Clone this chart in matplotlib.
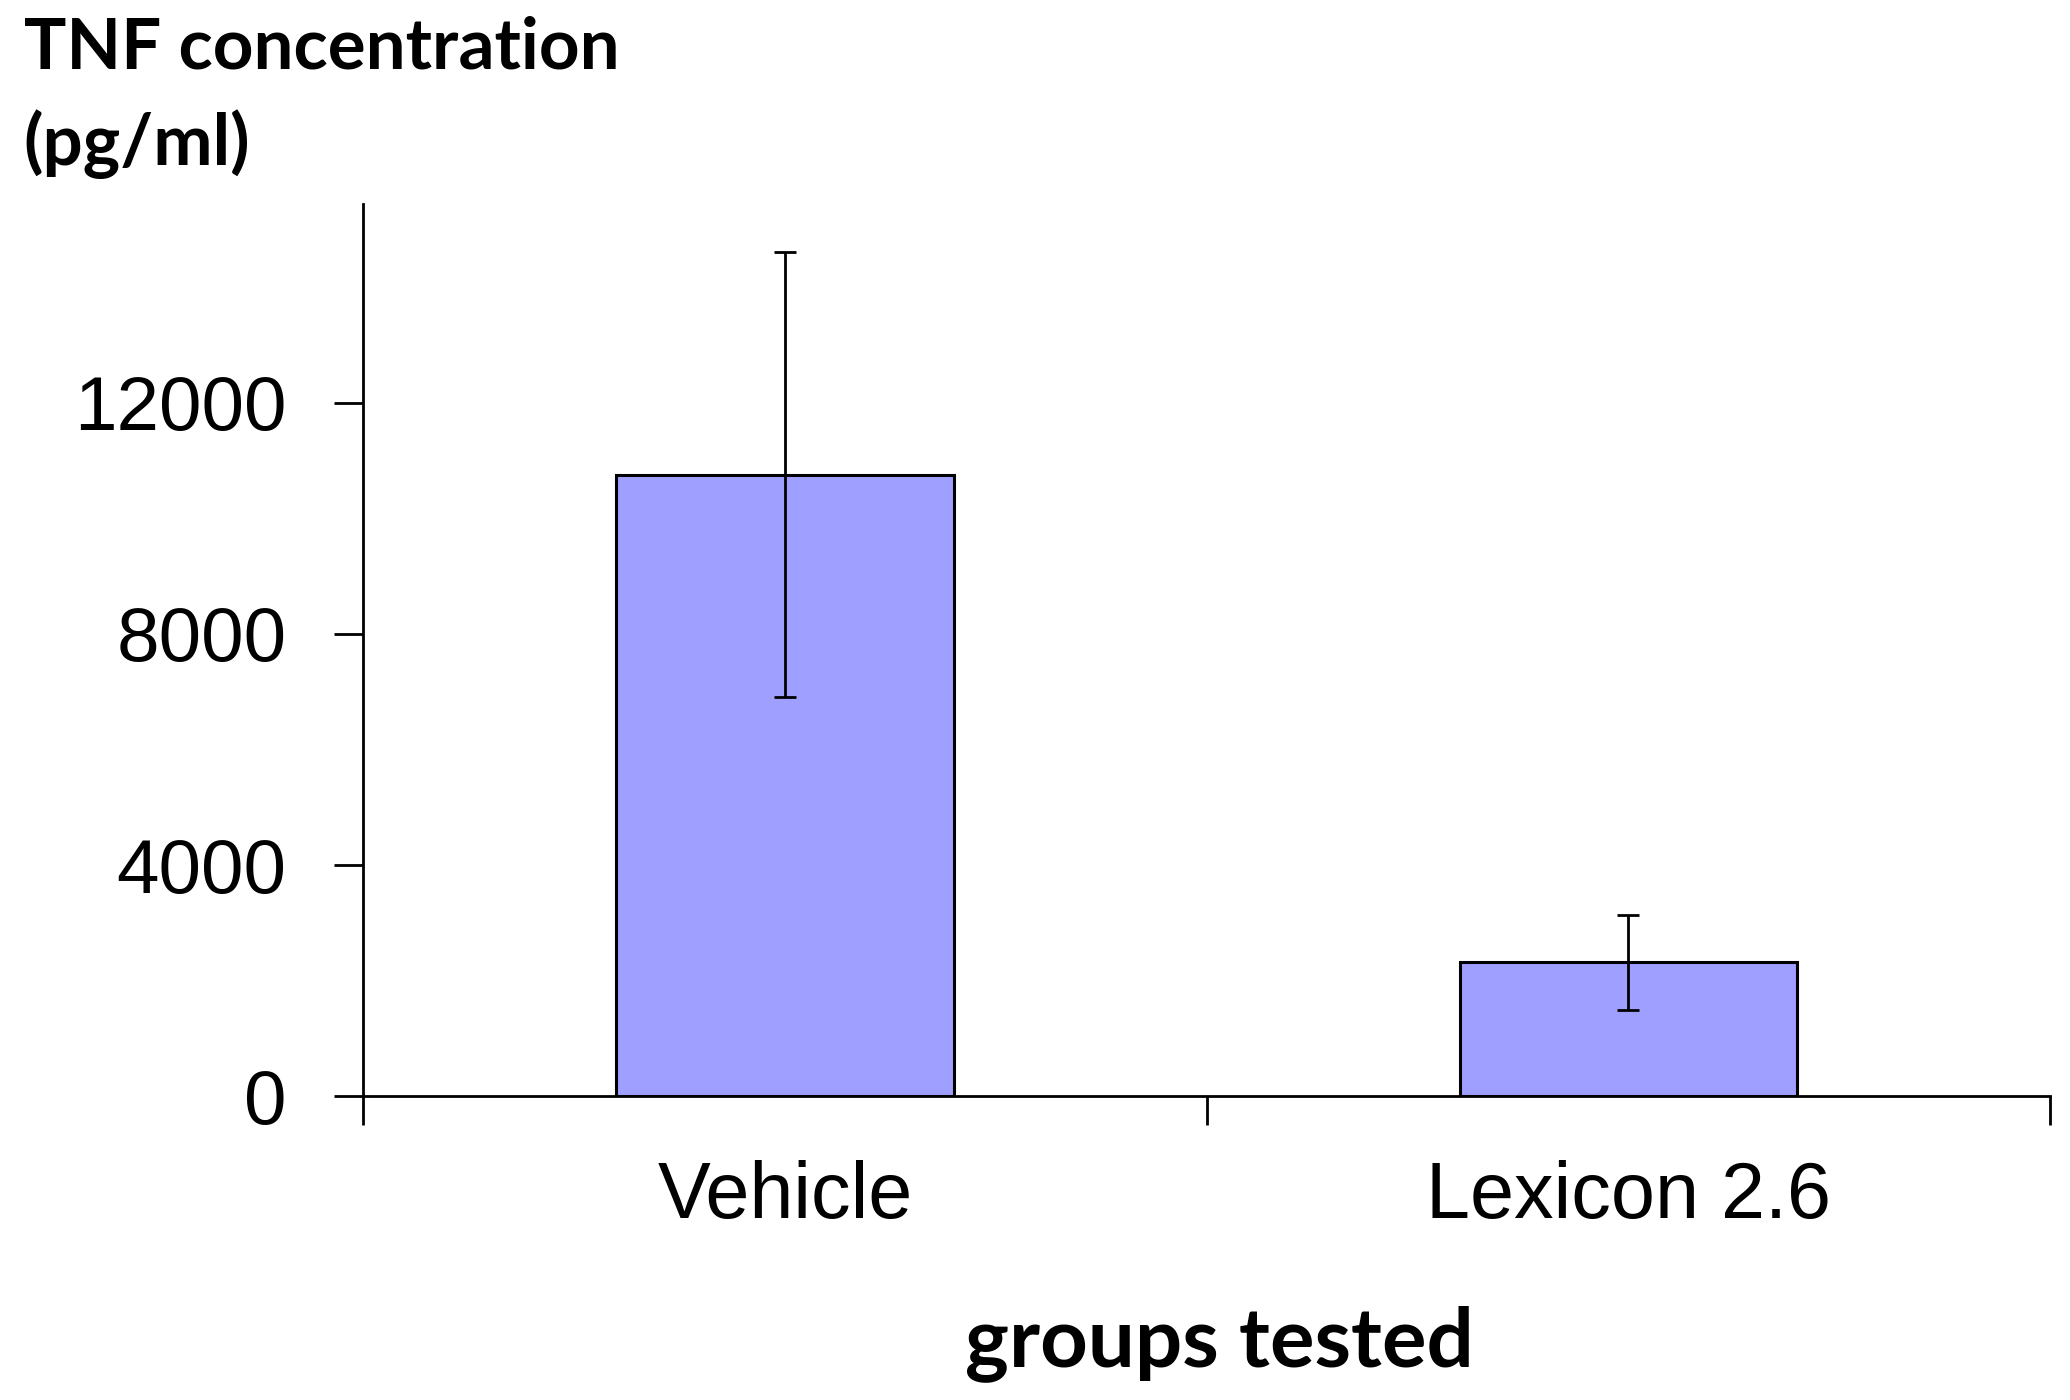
import matplotlib
matplotlib.use("Agg")
import matplotlib.pyplot as plt

groups = ["Vehicle", "Lexicon 2.6"]
tnf_means = [10750, 2320]
tnf_errors = [3850, 820]
y_ticks = [0, 4000, 8000, 12000]

BAR_COLOR = "#9f9fff"


def main():
    fig = plt.figure(figsize=(20.7, 14), dpi=100)
    ax = fig.add_axes([0.1754, 0.217, 0.815, 0.637])

    positions = list(range(len(groups)))
    ax.bar(positions, tnf_means, width=0.4, color=BAR_COLOR,
           edgecolor="black", linewidth=2.2, zorder=2)
    ax.errorbar(positions, tnf_means, yerr=tnf_errors, fmt="none",
                ecolor="black", elinewidth=2.0, capsize=8, capthick=2.0,
                zorder=3)

    ax.set_xlim(-0.5, 1.5)
    ax.set_ylim(0, 15430)
    ax.set_yticks(y_ticks)
    ax.set_yticklabels([str(v) for v in y_ticks], family="Liberation Sans",
                       fontsize=55)
    # category boundaries carry the tick marks, names sit between them
    ax.set_xticks([-0.5, 0.5, 1.5])
    ax.set_xticklabels([])
    ax.set_xticks(positions, minor=True)
    ax.set_xticklabels(groups, minor=True, family="Liberation Sans",
                       fontsize=57)

    ax.tick_params(axis="y", direction="out", length=21, width=2, pad=34)
    ax.tick_params(axis="x", which="major", direction="out", length=21,
                   width=2)
    ax.tick_params(axis="x", which="minor", length=0, pad=46)

    for side in ["top", "right"]:
        ax.spines[side].set_visible(False)
    for side in ["left", "bottom"]:
        ax.spines[side].set_linewidth(2)

    fig.text(0.0115, 0.951, "TNF concentration", family="Lato",
             fontweight="bold", fontsize=51, va="baseline", ha="left")
    fig.text(0.0115, 0.882, "(pg/ml)", family="Lato",
             fontweight="bold", fontsize=51, va="baseline", ha="left")
    fig.text(0.589, 0.024, "groups tested", family="Lato",
             fontweight="bold", fontsize=60, va="baseline", ha="center")

    fig.savefig("out.png", dpi=100)


if __name__ == "__main__":
    main()
